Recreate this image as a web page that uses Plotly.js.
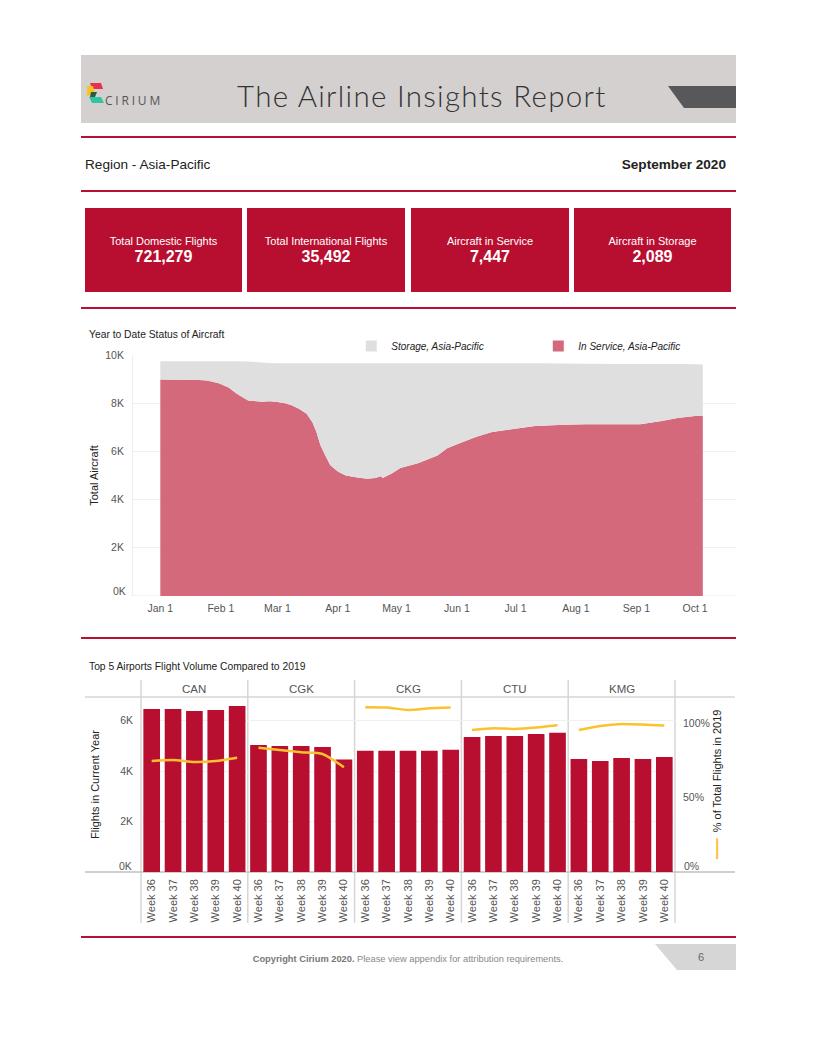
<!DOCTYPE html>
<html>
<head>
<meta charset="utf-8">
<script src="https://cdn.plot.ly/plotly-3.0.1.min.js"></script>
<style>
  html, body { margin:0; padding:0; background:#fff; }
  body { width:816px; height:1056px; position:relative; font-family:"Liberation Sans", Arial, sans-serif; overflow:hidden; }
  .abs { position:absolute; }
  .rule { position:absolute; left:81px; width:655px; height:2px; background:#b8102f; }
  .kpi { position:absolute; top:208px; height:84px; background:#b80f31; color:#fff; text-align:center; }
  .kpi .lab { position:absolute; left:0; right:0; top:27px; font-size:11px; line-height:13px; }
  .kpi .val { position:absolute; left:0; right:0; top:39px; font-size:16px; font-weight:bold; line-height:19px; }
  .ctitle { position:absolute; left:89px; font-size:10.3px; color:#222; }
</style>
</head>
<body>
<!-- header band -->
<div class="abs" style="left:81px; top:55px; width:655px; height:68px; background:#d4d0d0;"></div>
<svg class="abs" style="left:81px; top:55px;" width="655" height="68">
  <polygon points="587,31 655,31 655,53 603,53" fill="#58585b"/>
  <polygon points="9,28 20,28 22,34 11,34" fill="#e8304f"/>
  <polygon points="6,31 12,31 14,39 6,41" fill="#f7c427"/>
  <polygon points="10,37 16,37 14,42 9,42" fill="#2f5b3c"/>
  <polygon points="8,42 20,42 23,48 11,48" fill="#2ec4a4"/>
</svg>
<div class="abs" style="left:105px; top:92px; font-family:'Open Sans',sans-serif; font-size:12px; letter-spacing:2.8px; color:#555;">CIRIUM</div>
<div class="abs" style="left:237px; top:78px; font-family:Lato, sans-serif; font-weight:300; font-size:29.5px; line-height:36px; color:#333; letter-spacing:1.3px;">The Airline Insights Report</div>

<div class="rule" style="top:136px;"></div>
<div class="abs" style="left:85px; top:157px; font-size:13.6px; color:#222;">Region - Asia-Pacific</div>
<div class="abs" style="right:90px; top:157px; font-size:13.6px; font-weight:bold; color:#222;">September 2020</div>
<div class="rule" style="top:190px;"></div>

<div class="kpi" style="left:85px; width:157px;"><div class="lab">Total Domestic Flights</div><div class="val" id="k1"></div></div>
<div class="kpi" style="left:247px; width:158px;"><div class="lab">Total International Flights</div><div class="val" id="k2"></div></div>
<div class="kpi" style="left:411px; width:158px;"><div class="lab">Aircraft in Service</div><div class="val" id="k3"></div></div>
<div class="kpi" style="left:574px; width:157px;"><div class="lab">Aircraft in Storage</div><div class="val" id="k4"></div></div>

<div class="rule" style="top:307px;"></div>
<div class="ctitle" style="top:329px;">Year to Date Status of Aircraft</div>
<div id="area" class="abs" style="left:81px; top:318px; width:655px; height:305px;"></div>

<div class="rule" style="top:637px;"></div>
<div class="ctitle" style="top:661px;">Top 5 Airports Flight Volume Compared to 2019</div>
<div id="bars" class="abs" style="left:81px; top:660px; width:655px; height:275px;"></div>

<div class="rule" style="top:936px;"></div>
<svg class="abs" style="left:655px; top:944px;" width="81" height="26">
  <polygon points="0,0 81,0 81,26 22,26" fill="#d6d6d6"/>
</svg>
<div class="abs" style="left:698px; top:951px; font-size:11px; color:#666;">6</div>
<div class="abs" style="left:0; width:816px; top:954px; text-align:center; font-size:9.3px; color:#888;"><b style="color:#777;">Copyright Cirium 2020.</b> Please view appendix for attribution requirements.</div>

<script>
// ---------------- KPI values ----------------
const kpiDomesticFlights = '721,279';
const kpiInternationalFlights = '35,492';
const kpiAircraftInService = '7,447';
const kpiAircraftInStorage = '2,089';
document.getElementById('k1').textContent = kpiDomesticFlights;
document.getElementById('k2').textContent = kpiInternationalFlights;
document.getElementById('k3').textContent = kpiAircraftInService;
document.getElementById('k4').textContent = kpiAircraftInStorage;

// ---------------- Year to date status of aircraft ----------------
const statusDates = ['2020-01-01','2020-01-11','2020-01-21','2020-01-25','2020-01-31','2020-02-05','2020-02-09','2020-02-15','2020-02-22','2020-02-26',
  '2020-03-01','2020-03-05','2020-03-08','2020-03-12','2020-03-16','2020-03-19','2020-03-21','2020-03-23','2020-03-25','2020-03-28',
  '2020-04-01','2020-04-05','2020-04-11','2020-04-16','2020-04-20','2020-04-23','2020-04-24','2020-04-29','2020-05-03','2020-05-12',
  '2020-05-22','2020-05-27','2020-06-02','2020-06-11','2020-06-19','2020-06-28','2020-07-11','2020-07-26','2020-08-06','2020-08-27',
  '2020-09-03','2020-09-14','2020-09-22','2020-10-01','2020-10-05'];
const inService = [8980,8970,8960,8940,8830,8650,8400,8110,8060,8080,
  8050,8000,7930,7770,7560,7200,6800,6270,5920,5440,
  5170,5000,4920,4860,4900,4970,4900,5100,5310,5510,
  5830,6130,6330,6610,6810,6910,7050,7110,7130,7130,
  7130,7260,7390,7470,7470];
const inStorage = [760,770,780,800,910,1090,1340,1620,1630,1590,
  1610,1660,1730,1890,2100,2460,2860,3390,3740,4220,
  4490,4660,4740,4800,4760,4690,4760,4560,4350,4150,
  3830,3530,3330,3050,2850,2750,2610,2540,2510,2500,
  2500,2370,2240,2150,2140];
const statusYTicks = [0,2000,4000,6000,8000,10000];
const statusYLabels = ['0K','2K','4K','6K','8K','10K'];
const statusXTicks = ['2020-01-01','2020-02-01','2020-03-01','2020-04-01','2020-05-01','2020-06-01','2020-07-01','2020-08-01','2020-09-01','2020-10-01'];
const statusXLabels = ['Jan 1','Feb 1','Mar 1','Apr 1','May 1','Jun 1','Jul 1','Aug 1','Sep 1','Oct 1'];
const serviceName = 'In Service, Asia-Pacific';
const storageName = 'Storage, Asia-Pacific';

const RED_AREA = '#d4697c', GRAY_AREA = '#e0dfdf';
const txt = '#555';
const FAM = '"Liberation Sans", Arial, sans-serif';
const baseFont = {family:FAM, size:10.5, color:txt};

Plotly.newPlot('area', [
  {type:'scatter', x:statusDates, y:inService, stackgroup:'s', mode:'none', fillcolor:RED_AREA, name:serviceName, showlegend:false, line:{width:0}},
  {type:'scatter', x:statusDates, y:inStorage, stackgroup:'s', mode:'none', fillcolor:GRAY_AREA, name:storageName, showlegend:false, line:{width:0}},
  {type:'scatter', x:[null], y:[null], mode:'markers', marker:{symbol:'square', size:11, color:GRAY_AREA}, name:storageName},
  {type:'scatter', x:[null], y:[null], mode:'markers', marker:{symbol:'square', size:11, color:RED_AREA}, name:serviceName}
], {
  width:655, height:305,
  margin:{l:52, r:0, t:37, b:27},
  paper_bgcolor:'rgba(0,0,0,0)', plot_bgcolor:'#fff',
  font:baseFont,
  showlegend:true,
  legend:{orientation:'h', x:0.362, xanchor:'left', y:1.037, yanchor:'middle', traceorder:'normal',
          entrywidth:142, entrywidthmode:'pixels', itemwidth:30,
          font:{family:FAM, size:10, color:'#222', style:'italic'}, bgcolor:'rgba(0,0,0,0)'},
  xaxis:{type:'date', range:['2019-12-18','2020-10-22'], tickvals:statusXTicks, ticktext:statusXLabels,
         showgrid:false, zeroline:false, showline:false, ticks:'', ticklabelstandoff:4,
         tickfont:{size:10.5, color:txt}},
  yaxis:{range:[0,10000], tickvals:statusYTicks.slice(1), ticktext:statusYLabels.slice(1), showgrid:true, gridcolor:'#f0f0f0', gridwidth:1,
         zeroline:false, showline:true, linecolor:'#eeeeee', ticks:'', ticklabelstandoff:6,
         tickfont:{size:10.5, color:txt},
         title:{text:'Total Aircraft', font:{size:11, color:'#222'}, standoff:4}},
  annotations:[{text:statusYLabels[0], xref:'paper', yref:'y', x:0, y:statusYTicks[0], xanchor:'right', yanchor:'middle',
                xshift:-5, yshift:5, showarrow:false, font:{size:10.5, color:txt}}],
  shapes:[{type:'line', xref:'paper', yref:'y', x0:0, x1:1, y0:0, y1:0, layer:'below', line:{color:'#e6e6e6', width:1}}]
}, {displayModeBar:false, staticPlot:true});

// ---------------- Top 5 airports ----------------
const airports = ['CAN','CGK','CKG','CTU','KMG'];
const weeks = ['Week 36','Week 37','Week 38','Week 39','Week 40'];
const flightsCAN = [6470,6470,6390,6430,6590];
const flightsCGK = [5040,5000,5000,4960,4460];
const flightsCKG = [4810,4810,4810,4810,4850];
const flightsCTU = [5360,5400,5400,5480,5530];
const flightsKMG = [4480,4400,4520,4480,4560];
const pctCAN = [0.745,0.752,0.738,0.745,0.767];
const pctCGK = [0.834,0.819,0.803,0.792,0.703];
const pctCKG = [1.105,1.103,1.087,1.098,1.103];
const pctCTU = [0.953,0.964,0.960,0.969,0.984];
const pctKMG = [0.953,0.980,0.993,0.989,0.982];
const flightTicks = [0,2000,4000,6000];
const flightTickLabels = ['0K','2K','4K','6K'];
const pctTicks = [0,0.5,1];
const pctTickLabels = ['0%','50%','100%'];

const flights = [flightsCAN, flightsCGK, flightsCKG, flightsCTU, flightsKMG];
const pcts = [pctCAN, pctCGK, pctCKG, pctCTU, pctKMG];
const BAR_RED = '#b80f31', LINE_Y = '#f9c22e';

const traces = [];
const layout = {
  width:655, height:275,
  margin:{l:60, r:61, t:37, b:63},
  paper_bgcolor:'rgba(0,0,0,0)', plot_bgcolor:'rgba(0,0,0,0)',
  font:baseFont, showlegend:false, bargap:0.22,
  yaxis:{range:[0,6944], tickvals:flightTicks.slice(1), ticktext:flightTickLabels.slice(1), showgrid:true, gridcolor:'#f0f0f0',
         zeroline:false, showline:false, ticks:'', ticklabelstandoff:7, tickfont:{size:10.5, color:txt},
         title:{text:'Flights in Current Year', font:{size:11, color:'#222'}, standoff:18}},
  yaxis2:{overlaying:'y', side:'right', anchor:'free', position:1, range:[0,1.174], tickvals:pctTicks.slice(1), ticktext:pctTickLabels.slice(1),
          showgrid:false, zeroline:false, showline:false, ticks:'', ticklabelstandoff:7, tickfont:{size:10.5, color:txt},
          title:{text:'<span style="color:'+LINE_Y+'">━━━</span>  % of Total Flights in 2019', font:{size:11, color:'#222'}, standoff:4}},
  annotations:[
    {text:flightTickLabels[0], xref:'paper', yref:'y', x:0, y:flightTicks[0], xanchor:'right', yanchor:'middle', xshift:-7, yshift:6, showarrow:false, font:{size:10.5, color:txt}},
    {text:pctTickLabels[0], xref:'paper', yref:'y2', x:1, y:pctTicks[0], xanchor:'left', yanchor:'middle', xshift:7, yshift:6, showarrow:false, font:{size:10.5, color:txt}}
  ],
  shapes:[]
};
airports.forEach((ap, i) => {
  const xa = i === 0 ? 'x' : 'x' + (i + 1);
  const key = i === 0 ? 'xaxis' : 'xaxis' + (i + 1);
  layout[key] = {domain:[i * 0.2, (i + 1) * 0.2], anchor:'y', type:'category', categoryorder:'array', categoryarray:weeks,
                 tickangle:-90, ticks:'', showgrid:false, zeroline:false, showline:false, ticklabelstandoff:4,
                 tickfont:{size:11, color:txt}};
  traces.push({type:'bar', x:weeks, y:flights[i], xaxis:xa, yaxis:'y', marker:{color:BAR_RED}, name:ap});
  traces.push({type:'scatter', mode:'lines', x:weeks, y:pcts[i], xaxis:xa, yaxis:'y2', line:{color:LINE_Y, width:2.5, shape:'spline', smoothing:0.6}, name:ap + ' %'});
  layout.annotations.push({text:ap, xref:'paper', yref:'paper', x:(i + 0.5) * 0.2, y:1.046, xanchor:'center', yanchor:'middle',
                           showarrow:false, font:{size:11.5, color:txt}});
});
for (let k = 0; k <= 5; k++) {
  layout.shapes.push({type:'line', xref:'paper', yref:'paper', x0:k * 0.2, x1:k * 0.2, y0:-0.291, y1:1.097, layer:'below', line:{color:'#d6d6d6', width:1.5}});
}
layout.shapes.push({type:'line', xref:'paper', yref:'paper', x0:-0.105, x1:1.112, y0:1, y1:1, layer:'below', line:{color:'#d6d6d6', width:1.5}});
layout.shapes.push({type:'line', xref:'paper', yref:'paper', x0:-0.105, x1:1.112, y0:0, y1:0, layer:'below', line:{color:'#cfcfcf', width:2}});

Plotly.newPlot('bars', traces, layout, {displayModeBar:false, staticPlot:true});
</script>
</body>
</html>
